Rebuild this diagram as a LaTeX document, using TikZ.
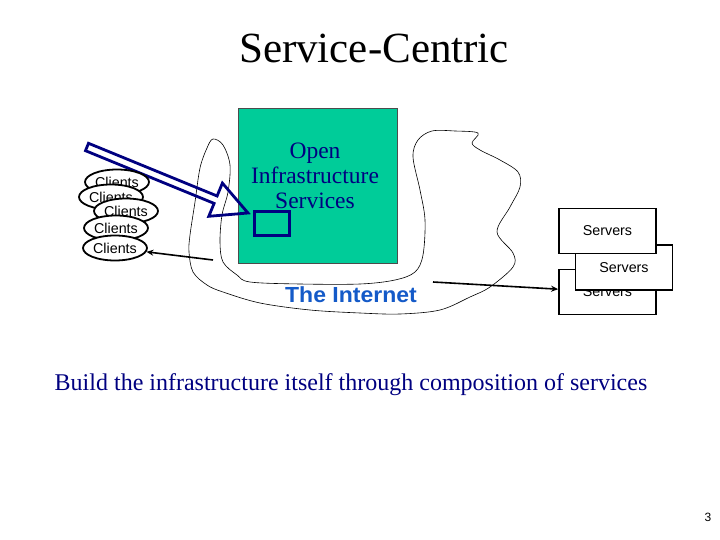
\documentclass[tikz,border=0pt]{standalone}
\usepackage{fontspec}
\setmainfont{Liberation Serif}
\setsansfont{Liberation Sans}
\usetikzlibrary{positioning,arrows.meta,shapes.geometric}
\definecolor{navy}{RGB}{0,0,128}
\definecolor{oisgreen}{RGB}{0,204,153}
\definecolor{netblue}{RGB}{20,90,200}

\begin{document}
\begin{tikzpicture}[x=1pt, y=-1pt, >=Stealth,
    client/.style={ellipse, draw, line width=1.8pt, fill=white, minimum width=64pt, minimum height=25pt, inner sep=0pt, font=\sffamily\fontsize{14.3}{16}\selectfont},
    server/.style={rectangle, draw, line width=1.8pt, fill=white, minimum width=97pt, minimum height=45pt, inner sep=0pt, font=\sffamily\fontsize{14.3}{16}\selectfont},
    link/.style={-{Stealth[length=7pt,width=6pt]}, line width=1.6pt}]

    \useasboundingbox (0,0) rectangle (720,540);

    % ================= TITLE =================
    \node[font=\fontsize{43}{48}\selectfont] (title) at (374,48) {Service-Centric};

    % ================= THE INTERNET CLOUD =================
    \draw[line width=0.6pt] plot[smooth cycle, tension=0.55] coordinates {
        (213,139) (207,148) (200,168) (195,202) (190,235) (189,252) (193,272) (207,285)
        (223,292) (260,303) (310,310) (360,313) (400,314) (440,310) (470,297) (490,287)
        (513,267) (513,253) (497,232) (510,207) (520,187) (518,172) (500,160) (480,150)
        (472,143) (478,133) (455,131) (432,131) (418,140) (413,157) (420,190) (425,220)
        (423,255) (415,272) (395,280) (360,284) (300,284) (250,282) (237,275) (223,262)
        (220,242) (222,215) (228,192) (230,165) (223,145)};
    \node[font=\sffamily\bfseries\fontsize{23}{26}\selectfont, text=netblue] (inet) at (351,295) {\scalebox{1.0}[0.95]{The Internet}};

    % ================= OPEN INFRASTRUCTURE SERVICES =================
    \node[draw=black!70, fill=oisgreen, minimum width=159pt, minimum height=155pt] (ois) at (317.5,185.5) {};
    \node[font=\fontsize{23.5}{25}\selectfont, text=navy, align=center] (oislabel) at (315,176) {Open\\Infrastructure\\Services};
    \node[draw=navy, line width=2.8pt, minimum width=35pt, minimum height=24pt] (port) at (272,223.5) {};

    % hollow arrow into the box
    \draw[navy, line width=2.8pt, line join=miter]
        (88.5,143.3) -- (217.1,196.0) -- (222.4,183.1) -- (248,213) -- (208.8,216.3) -- (214.1,203.4) -- (85.5,150.7) -- cycle;

    % ================= CLIENTS =================
    \node[client] (c1) at (117,182) {Clients};
    \node[client] (c2) at (111,197) {Clients};
    \node[client] (c3) at (126,211) {Clients};
    \node[client] (c4) at (116,228) {Clients};
    \node[client] (c5) at (115,248) {Clients};

    % ================= SERVERS =================
    \node[server] (s3) at (607.5,292) {Servers};
    \node[server] (s2) at (624,267.5) {Servers};
    \node[server] (s1) at (607.5,231) {Servers};

    % ================= LINKS =================
    \coordinate (cstart) at (213,260);
    \coordinate (sstart) at (433,282);
    \draw[link] (cstart) -- (c5);
    \draw[link] (sstart) -- (s3);

    % ================= CAPTION =================
    \node[font=\fontsize{24}{28}\selectfont, text=navy] (caption) at (351,385) {Build the infrastructure itself through composition of services};
    \node[font=\sffamily\fontsize{12}{14}\selectfont] (pagenum) at (708,517) {3};

\end{tikzpicture}
\end{document}
